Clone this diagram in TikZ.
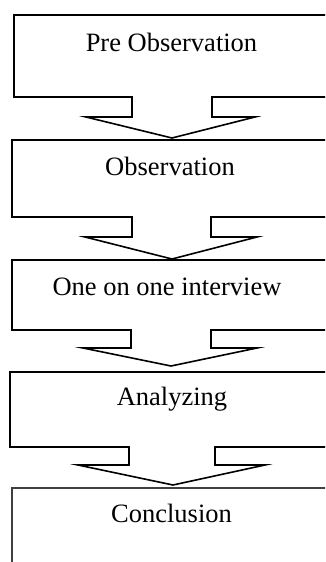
\documentclass[tikz,border=0pt]{standalone}
\usepackage{fontspec}
\setmainfont{Liberation Serif}
\begin{document}
\begin{tikzpicture}[x=1pt,y=-1pt,
  callout/.style={draw=black,line width=1.6pt,line join=miter},
  lastbox/.style={draw=black!75,line width=1.1pt},
  label/.style={anchor=base,inner sep=0pt,font=\fontsize{26.5}{30}\selectfont}]
\useasboundingbox (0,0) rectangle (325,562);
\clip (0,0) rectangle (325,562);
% box 1
\draw[callout] (335,15) -- (14,15) -- (14,97) -- (132,97) -- (132,117) -- (86,117)
  -- (172,138) -- (255,117) -- (212,117) -- (212,97) -- (335,97);
% box 2
\draw[callout] (335,140) -- (12,140) -- (12,217) -- (132,217) -- (132,237) -- (85,237)
  -- (172,259) -- (257,237) -- (211,237) -- (211,217) -- (335,217);
% box 3
\draw[callout] (335,260) -- (12,260) -- (12,330) -- (131,330) -- (131,348) -- (83,348)
  -- (171,366) -- (257,348) -- (211,348) -- (211,330) -- (335,330);
% box 4
\draw[callout] (335,372) -- (10,372) -- (10,447) -- (129,447) -- (129,465) -- (78,465)
  -- (173,485) -- (265,465) -- (215,465) -- (215,447) -- (335,447);
% box 5
\draw[lastbox] (335,488) -- (12,488) -- (12,570);
\node[label] (t1) at (171.5,51) {Pre Observation};
\node[label] (t2) at (170,175) {Observation};
\node[label] (t3) at (167,295) {One on one interview};
\node[label] (t4) at (172,405) {Analyzing};
\node[label] (t5) at (171.5,522) {Conclusion};
\end{tikzpicture}
\end{document}
